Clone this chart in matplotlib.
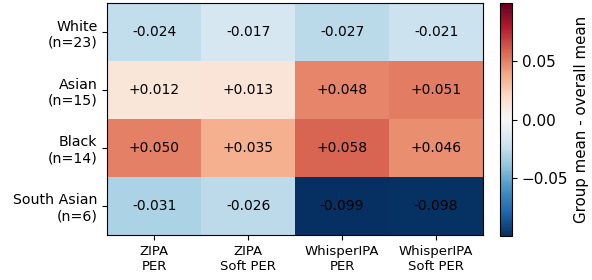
import matplotlib
matplotlib.use("Agg")
import matplotlib.pyplot as plt
import numpy as np

groups = ["White\n(n=23)", "Asian\n(n=15)", "Black\n(n=14)", "South Asian\n(n=6)"]
metrics = ["ZIPA\nPER", "ZIPA\nSoft PER", "WhisperIPA\nPER", "WhisperIPA\nSoft PER"]
white = [-0.024, -0.017, -0.027, -0.021]
asian = [0.012, 0.013, 0.048, 0.051]
black = [0.050, 0.035, 0.058, 0.046]
south_asian = [-0.031, -0.026, -0.099, -0.098]

data = np.array([white, asian, black, south_asian])
vmax = np.abs(data).max()

fig = plt.figure(figsize=(5.92, 2.8), dpi=100)
ax = fig.add_axes([0.181, 0.161, 0.635, 0.828])
cax = fig.add_axes([0.845, 0.157, 0.020, 0.832])

im = ax.imshow(data, cmap="RdBu_r", vmin=-vmax, vmax=vmax, aspect="auto")
for i in range(data.shape[0]):
    for j in range(data.shape[1]):
        ax.text(j, i, f"{data[i, j]:+.3f}", ha="center", va="center", fontsize=10, color="black")

ax.set_xticks(range(len(metrics)))
ax.set_xticklabels(metrics, fontsize=9.5)
ax.set_yticks(range(len(groups)))
ax.set_yticklabels(groups, fontsize=10.2)

cb = fig.colorbar(im, cax=cax)
cb.set_ticks([-0.05, 0.0, 0.05])
cb.ax.tick_params(labelsize=11)
cb.set_label("Group mean - overall mean", fontsize=10.8)

fig.savefig("out.png", dpi=100)
